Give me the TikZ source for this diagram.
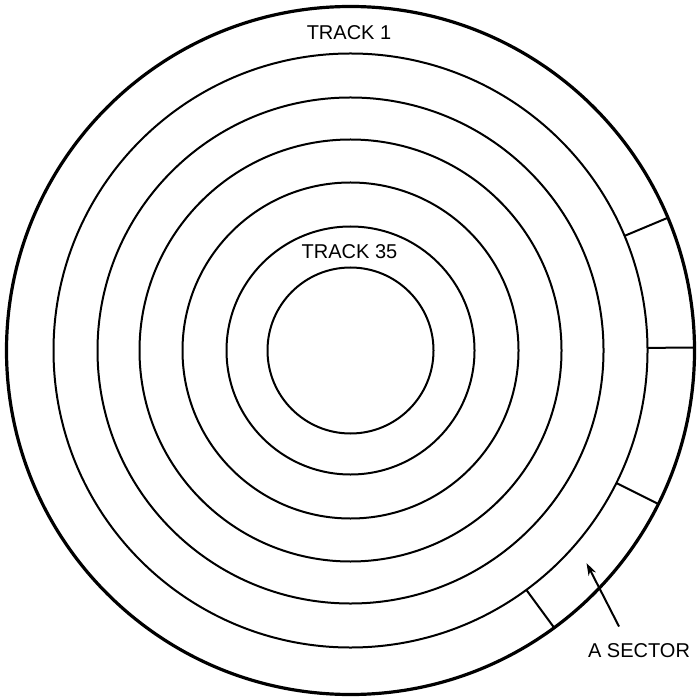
\documentclass[tikz,border=0pt]{standalone}
\usepackage{fontspec}
\setmainfont{Liberation Sans}
\usetikzlibrary{arrows.meta,calc}
\begin{document}
\begin{tikzpicture}[x=0.5pt,y=-0.5pt,
  track/.style={line width=1pt},
  rim/.style={line width=1.6pt},
  sectorline/.style={line width=1pt},
  lbl/.style={inner sep=0pt,font=\fontsize{10}{12}\selectfont}]
\useasboundingbox (0,0) rectangle (699,699);
\coordinate (c) at (350.5,350.5);
\draw[rim] (c) circle[radius=344*0.5pt];
\foreach \r in {297,253,211,168,124,83}
  \draw[track] (c) circle[radius=\r*0.5pt];
% sector boundaries between track 1 and the rim
\foreach \a in {22.7,0.5,-26.5,-53.7}
  \draw[sectorline] ($(c)+(\a:297*0.5pt)$) -- ($(c)+(\a:344*0.5pt)$);
\node[lbl] (t1) at (349,33) {TRACK 1};
\node[lbl] (t35) at (349.5,252) {TRACK 35};
\node[lbl] (sec) at (639,650.5) {A SECTOR};
\coordinate (tip) at (586.5,563);
\coordinate (tail) at (619,626.5);
\draw[line width=1pt,-{Stealth[length=12.5pt*0.5,width=8pt*0.5]}] (tail) -- (tip);
\end{tikzpicture}
\end{document}
